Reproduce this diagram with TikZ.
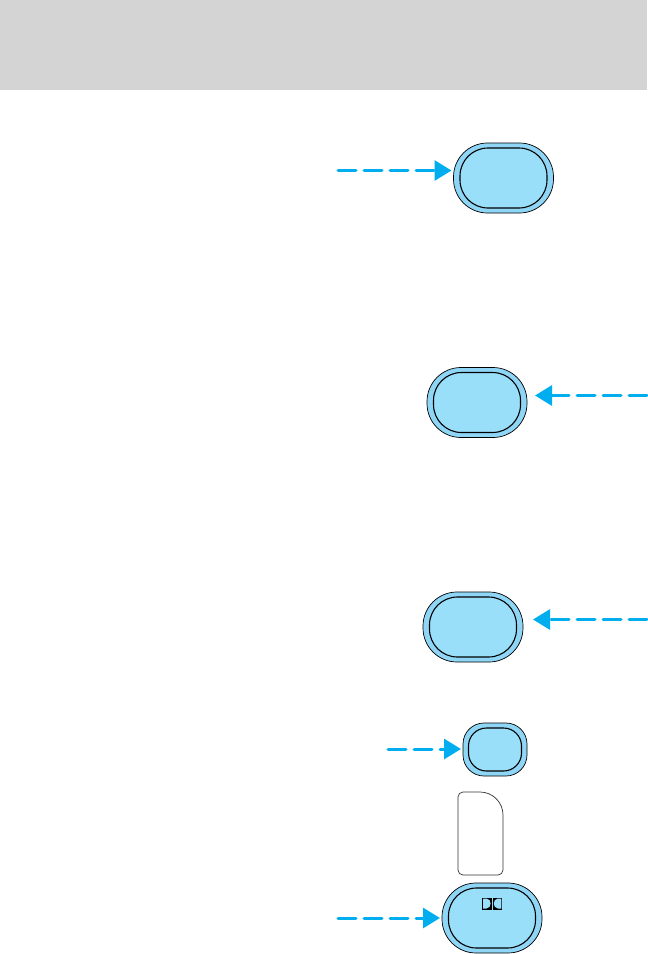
\documentclass[tikz,border=0pt]{standalone}
\usetikzlibrary{arrows.meta}

\begin{document}
\begin{tikzpicture}[x=1pt,y=-1pt,
  ring/.style={draw=black,line width=0.7pt,fill=ringblue,inner sep=0pt,outer sep=0pt,
    minimum width=100pt,minimum height=70pt,rounded corners=34pt},
  pad/.style={draw=black,line width=1.1pt,fill=padblue,inner sep=0pt,outer sep=0pt,
    minimum width=87pt,minimum height=60pt,rounded corners=28pt},
  ptr/.style={draw=ptrblue,line width=3pt,line cap=round,dash pattern=on 18pt off 8pt,
    -{Triangle[length=17pt,width=20pt]},shorten >=2pt}]
\definecolor{ringblue}{HTML}{8FD6F6}\definecolor{padblue}{HTML}{9ADFFA}
\definecolor{ptrblue}{HTML}{00AEEF}
\useasboundingbox (0,0) rectangle (648,954);
% ===== header band =====
\node[fill=black!17,inner sep=0pt,minimum width=647pt,minimum height=90pt] (band) at (323.5,45){};
% ===== buttons =====
\node[ring] (btnA) at (503.5,178){};
\node[pad] at (btnA.center){};
\node[ring] (btnB) at (477,402.5){};
\node[pad] at (btnB.center){};
\node[ring] (btnC) at (473,627){};
\node[pad] at (btnC.center){};
\node[ring,minimum width=64pt,minimum height=53pt,rounded corners=21pt] (btnD) at (495,749.5){};
\node[pad,minimum width=53pt,minimum height=43pt,rounded corners=18pt] at (btnD.center){};
\node[ring] (btnE) at (492,918){};
\node[pad] at (btnE.center){};
% blank key between the last two buttons
\draw[black!80,line width=0.7pt] (458,797) arc[start angle=180,end angle=270,radius=5]
  -- (480,792) arc[start angle=270,end angle=360,radius=23]
  -- (503,870) arc[start angle=0,end angle=90,radius=5]
  -- (463,875) arc[start angle=90,end angle=180,radius=5] -- cycle;
% double-D mark on the last button
\fill[black] (482,897.5) rectangle (491.8,909.5);
\fill[black] (492.6,897.5) rectangle (502.4,909.5);
\fill[padblue] (483,898.5) -- (486.5,898.5) .. controls (492,899) and (492,908) .. (486.5,908.5) -- (483,908.5) -- cycle;
\fill[padblue] (501.4,898.5) -- (497.9,898.5) .. controls (492.4,899) and (492.4,908) .. (497.9,908.5) -- (501.4,908.5) -- cycle;
% ===== arrows =====
\coordinate (startA) at (338,170.5);
\coordinate (startB) at (647,395.5);
\coordinate (startC) at (647,619.5);
\coordinate (startD) at (388,749);
\coordinate (startE) at (338,918);
\draw[ptr] (startA)--(btnA.west|-startA);
\draw[ptr,shorten >=8pt] (startB)--(btnB.east|-startB);
\draw[ptr,shorten >=10pt] (startC)--(btnC.east|-startC);
\draw[ptr] (startD)--(btnD.west|-startD);
\draw[ptr] (startE)--(btnE.west|-startE);
\end{tikzpicture}
\end{document}
